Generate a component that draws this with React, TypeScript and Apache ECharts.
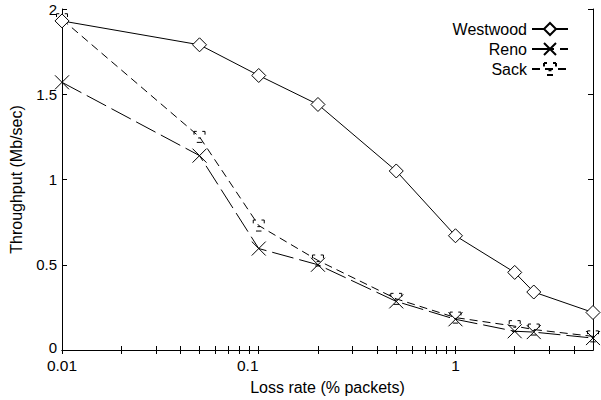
import React, { useEffect, useRef } from "react";
import * as echarts from "echarts";

const lossRates = [0.01, 0.05, 0.1, 0.2, 0.5, 1, 2, 2.5, 5];
const westwood = [1.93, 1.79, 1.61, 1.44, 1.05, 0.67, 0.455, 0.34, 0.22];
const reno = [1.57, 1.14, 0.595, 0.5, 0.285, 0.18, 0.11, 0.105, 0.07];
const sack = [1.94, 1.25, 0.73, 0.525, 0.3, 0.19, 0.14, 0.12, 0.08];
const xMajorTicks = [0.01, 0.1, 1];
const xMinorTicks = [
  0.02, 0.03, 0.04, 0.05, 0.06, 0.07, 0.08, 0.09,
  0.2, 0.3, 0.4, 0.5, 0.6, 0.7, 0.8, 0.9,
  2, 3, 4,
];
const yTicks = [0, 0.5, 1, 1.5, 2];

const FONT = "Liberation Sans";
const crossSymbol = "path://M0,0L10,10M10,0L0,10";
const sackSymbol = "path://M1,0L1,3M1,0L3,0M9,0L9,3M9,0L7,0M4,6L6,6M3,10L7,10";

const pairs = (ys: number[]) => lossRates.map((x, i) => [x, ys[i]]);

export default function App() {
  const ref = useRef<HTMLDivElement>(null);
  useEffect(() => {
    if (!ref.current) return;
    const chart = echarts.init(ref.current, null, { renderer: "svg" });
    const allXTicks = [...xMajorTicks, ...xMinorTicks].sort((a, b) => a - b);
    const axisLine = { show: true, lineStyle: { color: "#000", width: 1 } };
    const labelText = { fontFamily: FONT, fontSize: 15.5, lineHeight: 13, color: "#000" };
    const yLabelText = { fontFamily: FONT, fontSize: 15, lineHeight: 13, color: "#000" };
    chart.setOption({
      animation: false,
      backgroundColor: "#fff",
      textStyle: { fontFamily: FONT, color: "#000" },
      grid: { left: 57, right: 8, top: 9, bottom: 48, containLabel: false },
      legend: {
        orient: "vertical",
        align: "right",
        right: 27,
        top: 15,
        itemWidth: 36,
        itemHeight: 15,
        itemGap: 2,
        textStyle: { fontFamily: FONT, fontSize: 16, color: "#000", lineHeight: 18 },
        data: ["Westwood", "Reno", "Sack"],
      },
      xAxis: [
        {
          type: "log",
          logBase: 10,
          min: 0.01,
          max: 5,
          position: "bottom",
          axisLine,
          axisTick: { show: true, inside: true, length: 4, customValues: allXTicks, lineStyle: { color: "#000" } },
          axisLabel: {
            customValues: xMajorTicks,
            ...labelText,
            margin: 9,
            formatter: (v: number) => {
              const s = String(Number(v.toPrecision(3)));
              return s === "0.1" ? "{a|" + s + "}{s| }" : "{a|" + s + "}";
            },
            rich: {
              a: { ...labelText },
              s: { ...labelText, width: 22 },
            },
          },
          splitLine: { show: false },
          name: "Loss rate (% packets)",
          nameLocation: "middle",
          nameGap: 29,
          nameTextStyle: { fontFamily: FONT, fontSize: 16, color: "#000" },
        },
        {
          type: "log",
          logBase: 10,
          min: 0.01,
          max: 5,
          position: "top",
          axisLine,
          axisTick: { show: true, inside: true, length: 4, customValues: allXTicks, lineStyle: { color: "#000" } },
          axisLabel: { show: false },
          splitLine: { show: false },
        },
      ],
      yAxis: [
        {
          type: "value",
          min: 0,
          max: 2,
          interval: 0.5,
          position: "left",
          axisLine,
          axisTick: { show: true, inside: true, length: 5, customValues: yTicks, lineStyle: { color: "#000" } },
          axisLabel: {
            ...yLabelText,
            margin: 5,
            formatter: (v: number) => (v === 0 ? "{z|0}" : "{n|" + v + "}"),
            rich: {
              z: { ...yLabelText, padding: [0, 0, 5, 0] },
              n: { ...yLabelText },
            },
          },
          splitLine: { show: false },
          name: "Throughput (Mb/sec)",
          nameLocation: "middle",
          nameGap: 38,
          nameTextStyle: { fontFamily: FONT, fontSize: 16, color: "#000" },
        },
        {
          type: "value",
          min: 0,
          max: 2,
          interval: 0.5,
          position: "right",
          axisLine,
          axisTick: { show: true, inside: true, length: 5, lineStyle: { color: "#000" } },
          axisLabel: { show: false },
          splitLine: { show: false },
        },
      ],
      series: [
        {
          name: "Westwood",
          type: "line",
          xAxisIndex: 0,
          yAxisIndex: 0,
          data: pairs(westwood),
          clip: false,
          symbol: "diamond",
          symbolSize: 14,
          lineStyle: { color: "#000", width: 1, type: "solid" },
          itemStyle: { color: "#fff", borderColor: "#000", borderWidth: 1 },
          z: 3,
        },
        {
          name: "Reno",
          type: "line",
          xAxisIndex: 0,
          yAxisIndex: 0,
          data: pairs(reno),
          clip: false,
          symbol: crossSymbol,
          symbolSize: 14,
          lineStyle: { color: "#000", width: 1, type: [22, 6] },
          itemStyle: { color: "none", borderColor: "#000", borderWidth: 1 },
          z: 2,
        },
        {
          name: "Sack",
          type: "line",
          xAxisIndex: 0,
          yAxisIndex: 0,
          data: pairs(sack),
          clip: false,
          symbol: sackSymbol,
          symbolSize: 11,
          lineStyle: { color: "#000", width: 1, type: [8, 5] },
          itemStyle: { color: "none", borderColor: "#000", borderWidth: 1 },
          z: 2,
        },
      ],
    });
    return () => chart.dispose();
  }, []);
  return (
    <div
      ref={ref}
      style={{ position: "absolute", left: 0, top: 0, width: 601, height: 400 }}
    />
  );
}
